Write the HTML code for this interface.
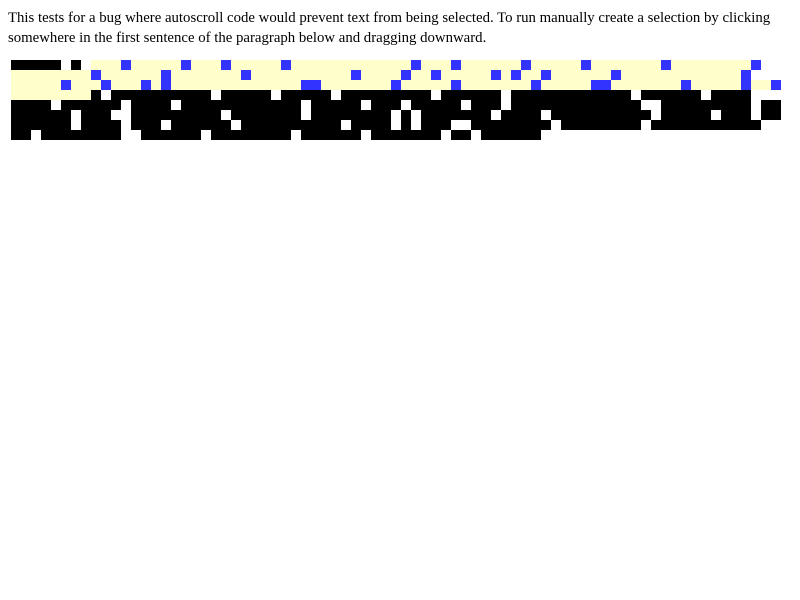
<!DOCTYPE html>
<html><head><style>
body{margin:0;background:#fff;width:800px;height:600px;overflow:hidden;position:relative}
#t{position:absolute;left:8px;top:8px;width:780px;font:14.8px/20px "Liberation Serif",serif;color:#000;margin:0}
#g{position:absolute;left:11px;top:60px}
#g div{position:absolute;width:10px;height:10px}
</style></head><body>
<p id="t">This tests for a bug where autoscroll code would prevent text from being selected. To run manually create a selection by clicking somewhere in the first sentence of the paragraph below and dragging downward.</p>
<div id="g"></div>
<script>
const rows=[
 {k:[[0,4],[6,6]],y:[[8,74]],b:[11,17,21,27,40,44,51,57,65,74]},
 {y:[[0,73]],b:[8,15,23,34,39,42,48,50,53,60,73]},
 {y:[[0,76]],b:[5,9,13,15,29,30,38,44,52,58,59,67,73,76]},
 {y:[[0,7]],k:[[8,73]],w:[9,20,26,32,42,49,62,69]},
 {k:[[0,76]],w:[4,11,16,29,35,39,45,49,63,64,74]},
 {k:[[0,76]],w:[6,10,11,21,29,38,40,48,53,64,70,74]},
 {k:[[0,74]],w:[6,11,15,22,33,38,40,44,45,54,63]},
 {k:[[0,52]],w:[2,11,12,19,28,35,43,46]}
];
const colors={k:'#000',y:'#ffffcc',b:'#3333ff',w:'#fff'};
const g=document.getElementById('g');
rows.forEach((r,ri)=>{
 const cells={};
 ['y','k'].forEach(t=>(r[t]||[]).forEach(([a,b])=>{for(let c=a;c<=b;c++)cells[c]=t;}));
 (r.b||[]).forEach(c=>cells[c]='b');
 (r.w||[]).forEach(c=>cells[c]='w');
 for(const c in cells){
  const d=document.createElement('div');
  
  
  d.style.left=(c*10)+'px';d.style.top=(ri*10)+'px';d.style.background=colors[cells[c]];
  g.appendChild(d);
 }
});
</script>
</body></html>
